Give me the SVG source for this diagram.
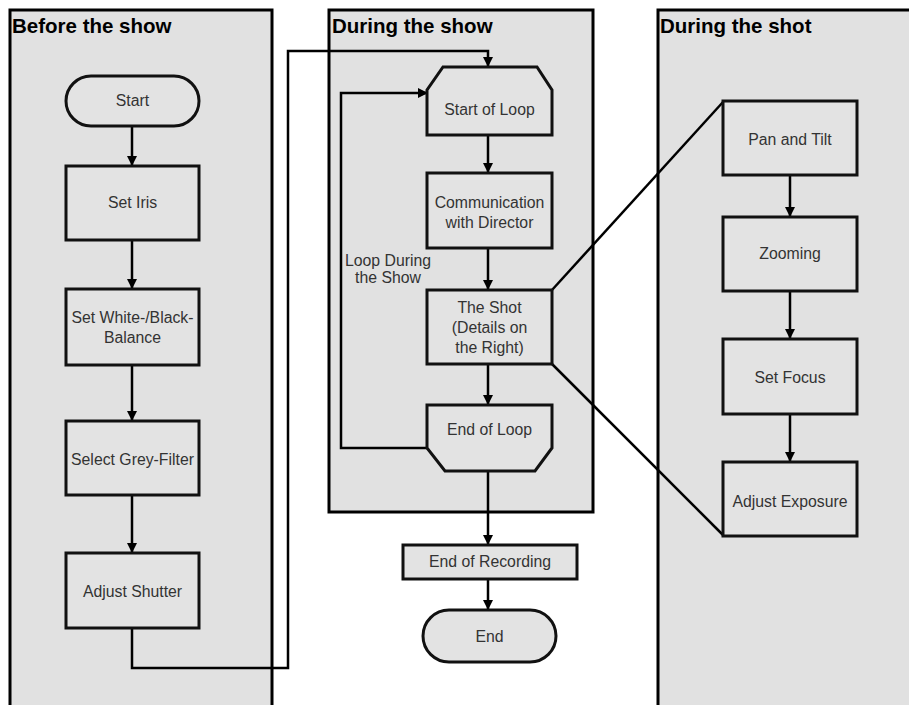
<svg xmlns="http://www.w3.org/2000/svg" width="909" height="705" viewBox="0 0 909 705">
<defs>
<style>
.panel{fill:#e1e1e1;stroke:#000;stroke-width:3}
.node{fill:#e3e3e3;stroke:#111;stroke-width:3;stroke-linejoin:miter}
.title{font-family:"Liberation Sans",Arial,sans-serif;font-weight:bold;font-size:20.5px;fill:#000}
.lbl{font-family:"Liberation Sans",Arial,sans-serif;font-size:15.8px;fill:#333;text-anchor:middle}
.edge{fill:none;stroke:#000;stroke-width:2.5}
</style>
<marker id="arr" viewBox="0 0 10 10" refX="10" refY="5" markerWidth="4" markerHeight="4" orient="auto" markerUnits="strokeWidth">
<path d="M0,0 L10,5 L0,10 z" fill="#000"/>
</marker>
</defs>
<rect width="909" height="705" fill="#fff"/>
<g id="panel-before">
<rect class="panel" x="10" y="10" width="262" height="720"/>
<text class="title" x="12" y="33">Before the show</text>
</g>
<g id="panel-during-show">
<rect class="panel" x="329" y="10" width="264" height="502"/>
<text class="title" x="332" y="33">During the show</text>
</g>
<g id="panel-during-shot">
<rect class="panel" x="658" y="10" width="300" height="720"/>
<text class="title" x="660" y="33">During the shot</text>
</g>
<g id="connectors">
<path class="edge" d="M132,126 V166" marker-end="url(#arr)"/>
<path class="edge" d="M132,240 V289" marker-end="url(#arr)"/>
<path class="edge" d="M132,365 V421" marker-end="url(#arr)"/>
<path class="edge" d="M132,495 V553" marker-end="url(#arr)"/>
<path class="edge" d="M132,628 V668 H288 V51 H488 V67" marker-end="url(#arr)"/>
<path class="edge" d="M488,135 V173" marker-end="url(#arr)"/>
<path class="edge" d="M488,248 V290" marker-end="url(#arr)"/>
<path class="edge" d="M488,364 V405" marker-end="url(#arr)"/>
<path class="edge" d="M427,448 H341 V93 H428" marker-end="url(#arr)"/>
<path class="edge" d="M488,471 V545" marker-end="url(#arr)"/>
<path class="edge" d="M488,579 V610" marker-end="url(#arr)"/>
<path class="edge" d="M552,290 L723,102"/>
<path class="edge" d="M552,364 L723,535"/>
<path class="edge" d="M790,175 V217" marker-end="url(#arr)"/>
<path class="edge" d="M790,291 V339" marker-end="url(#arr)"/>
<path class="edge" d="M790,414 V462" marker-end="url(#arr)"/>
<text class="lbl" x="388" y="266">Loop During</text>
<text class="lbl" x="388" y="283">the Show</text>
</g>
<g id="start">
<rect class="node" x="66" y="76" width="133" height="50" rx="25" ry="25"/>
<text class="lbl" x="132.5" y="106">Start</text>
</g>
<g id="set-iris">
<rect class="node" x="66" y="166" width="133" height="74"/>
<text class="lbl" x="132.5" y="208">Set Iris</text>
</g>
<g id="set-balance">
<rect class="node" x="66" y="289" width="133" height="76"/>
<text class="lbl" x="132.5" y="323">Set White-/Black-</text>
<text class="lbl" x="132.5" y="343">Balance</text>
</g>
<g id="grey-filter">
<rect class="node" x="66" y="421" width="133" height="74"/>
<text class="lbl" x="132.5" y="465">Select Grey-Filter</text>
</g>
<g id="adjust-shutter">
<rect class="node" x="66" y="553" width="133" height="75"/>
<text class="lbl" x="132.5" y="597">Adjust Shutter</text>
</g>
<g id="start-of-loop">
<path class="node" d="M443,67 H537 L552,90 V135 H427 V90 Z"/>
<text class="lbl" x="489.5" y="115">Start of Loop</text>
</g>
<g id="communication">
<rect class="node" x="427" y="173" width="125" height="75"/>
<text class="lbl" x="489.5" y="208">Communication</text>
<text class="lbl" x="489.5" y="228">with Director</text>
</g>
<g id="the-shot">
<rect class="node" x="427" y="290" width="125" height="74"/>
<text class="lbl" x="489.5" y="313">The Shot</text>
<text class="lbl" x="489.5" y="333">(Details on</text>
<text class="lbl" x="489.5" y="353">the Right)</text>
</g>
<g id="end-of-loop">
<path class="node" d="M427,405 H552 V448 L535,471 H445 L427,448 Z"/>
<text class="lbl" x="489.5" y="435">End of Loop</text>
</g>
<g id="end-of-recording">
<rect class="node" x="403" y="545" width="174" height="34"/>
<text class="lbl" x="490" y="567">End of Recording</text>
</g>
<g id="end">
<rect class="node" x="423" y="610" width="133" height="52" rx="26" ry="26"/>
<text class="lbl" x="489.5" y="642">End</text>
</g>
<g id="pan-tilt">
<rect class="node" x="723" y="101" width="134" height="74"/>
<text class="lbl" x="790" y="145">Pan and Tilt</text>
</g>
<g id="zooming">
<rect class="node" x="723" y="217" width="134" height="74"/>
<text class="lbl" x="790" y="259">Zooming</text>
</g>
<g id="set-focus">
<rect class="node" x="723" y="339" width="134" height="75"/>
<text class="lbl" x="790" y="383">Set Focus</text>
</g>
<g id="adjust-exposure">
<rect class="node" x="723" y="462" width="134" height="74"/>
<text class="lbl" x="790" y="507">Adjust Exposure</text>
</g>
</svg>
